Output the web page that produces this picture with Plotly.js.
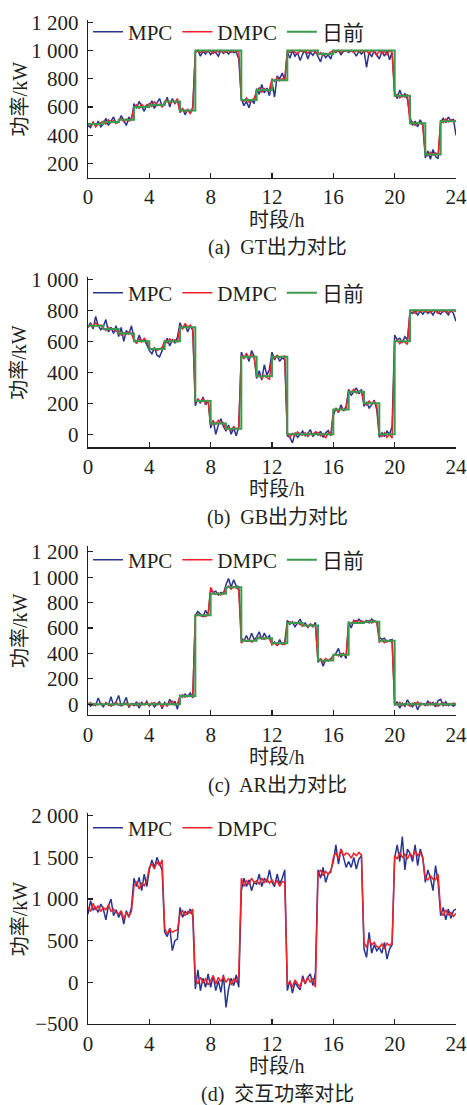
<!DOCTYPE html>
<html>
<head>
<meta charset="utf-8">
<script src="https://cdn.plot.ly/plotly-3.0.1.min.js"></script>
<style>html,body{margin:0;padding:0;background:#fff;}#chart{width:467px;height:1105px;}</style>
</head>
<body>
<div id="chart"></div>
<script>
// ---------- data (10-min resolution, hour 0 .. 24) ----------
const hourTicks = [0, 4, 8, 12, 16, 20, 24];

// (a) GT
const gtDayAhead = [480,495,510,600,615,640,575,1000,1000,1000,650,720,790,1000,1000,975,1000,1000,1000,1000,680,485,265,500,500];
const gtMPC = [
 470,455,490,465,500,460,
 480,520,470,505,530,485,
 495,540,500,470,530,505,
 625,590,640,600,570,615,
 600,645,590,630,660,605,
 620,670,600,660,625,650,
 560,590,545,585,555,600,
 985,1000,960,995,975,1000,
 970,995,985,960,1000,980,
 995,975,1000,985,990,940,
 660,610,640,595,655,625,
 730,690,760,700,735,680,
 780,670,820,800,840,790,
 990,945,1000,960,985,930,
 975,1000,940,990,965,995,
 960,920,985,950,970,940,
 1000,985,1000,970,995,1000,
 985,1000,990,960,995,975,
 1000,880,990,955,1000,970,
 940,995,960,1000,935,990,
 700,660,720,670,695,655,
 530,470,500,460,510,475,
 240,290,230,300,250,235,
 495,520,490,530,500,515,
 400];
const gtDMPC = [
 485,470,495,460,480,490,
 500,480,510,490,505,485,
 505,520,495,515,500,520,
 595,615,590,620,600,610,
 625,605,640,610,620,600,
 635,650,625,645,630,660,
 570,590,565,580,555,585,
 990,1000,985,1000,990,995,
 1000,980,995,990,1000,985,
 995,1000,985,1000,990,995,
 655,640,665,635,650,660,
 710,735,705,730,715,725,
 800,780,810,785,800,795,
 1000,985,1000,990,975,1000,
 990,1000,980,995,1000,985,
 970,985,965,980,975,990,
 1000,990,1000,985,1000,995,
 995,1000,985,1000,990,1000,
 985,1000,975,1000,990,965,
 1000,980,995,970,1000,985,
 675,690,665,685,670,690,
 480,495,470,490,485,475,
 270,255,280,260,275,265,
 505,490,515,495,510,500,
 505];

// (b) GB
const gbDayAhead = [700,680,650,600,550,600,690,215,70,35,500,375,500,0,0,0,160,275,200,0,600,800,800,800,800];
const gbMPC = [
 690,720,680,760,700,675,
 695,740,660,690,650,700,
 630,690,600,670,645,700,
 620,585,640,600,610,580,
 540,520,560,510,500,545,
 580,620,570,610,590,625,
 720,680,710,660,700,670,
 185,230,200,240,190,220,
 40,90,0,60,100,50,
 20,60,0,40,-10,50,
 530,490,520,470,540,505,
 360,410,350,450,380,420,
 530,480,510,470,495,480,
 -10,-20,-55,10,-20,0,
 20,-10,5,30,-15,10,
 -5,20,-20,10,25,-10,
 120,170,140,190,150,180,
 290,250,280,300,260,290,
 180,210,170,190,220,160,
 -20,10,-15,20,0,50,
 640,610,620,590,630,610,
 790,780,800,770,795,775,
 800,780,795,770,800,785,
 775,800,790,770,800,780,
 730];
const gbDMPC = [
 690,710,695,720,700,705,
 685,670,690,675,680,665,
 660,640,655,645,660,650,
 605,590,615,595,620,600,
 560,545,555,540,550,560,
 605,590,615,600,610,595,
 700,680,715,690,705,685,
 205,225,210,230,200,220,
 60,85,65,90,70,75,
 30,45,25,50,35,40,
 510,490,520,495,515,500,
 370,385,360,380,365,355,
 505,490,510,495,500,505,
 10,-20,5,-10,15,0,
 -5,10,-15,5,0,15,
 10,-10,5,-25,10,-5,
 150,165,145,170,155,160,
 285,270,290,265,280,275,
 205,190,215,195,210,185,
 5,-15,10,-20,0,-25,
 590,610,585,605,595,580,
 795,800,780,800,790,800,
 790,800,785,800,795,780,
 800,790,800,785,795,800,
 790];

// (c) AR
const arDayAhead = [0,0,0,0,0,0,65,700,870,920,500,520,480,640,620,345,390,640,650,500,0,0,0,0,0];
const arMPC = [
 10,-15,5,-10,50,0,
 -20,15,-5,60,-10,20,
 70,-15,10,55,-25,5,
 -10,20,-30,15,-5,25,
 -15,10,-20,5,20,-35,
 15,-10,40,-5,25,-40,
 70,55,80,60,90,50,
 700,730,710,690,740,700,
 900,880,890,860,880,870,
 940,990,920,980,930,925,
 520,500,540,495,560,510,
 530,570,510,560,520,540,
 470,490,460,510,470,490,
 660,630,650,610,640,670,
 620,640,605,630,610,645,
 330,360,300,350,340,360,
 380,400,440,370,400,360,
 650,600,660,640,670,650,
 645,660,640,670,655,650,
 530,510,520,490,505,510,
 -10,20,-30,10,-15,35,
 0,-20,15,-45,10,5,
 -10,25,-5,15,-20,30,
 40,-15,20,-10,5,-15,
 0];
const arDMPC = [
 0,15,-10,5,-5,10,
 -5,10,0,-15,5,15,
 -10,5,-5,10,-15,0,
 5,-10,10,-5,0,15,
 -10,5,15,-5,10,-20,
 5,-15,10,25,-5,5,
 60,75,55,70,65,60,
 690,710,695,700,690,705,
 920,880,865,875,860,880,
 910,930,905,925,915,900,
 480,510,495,505,490,500,
 515,530,520,510,525,515,
 470,485,465,480,475,470,
 630,650,635,645,640,630,
 615,625,610,630,620,615,
 340,355,330,360,345,350,
 385,395,380,400,390,385,
 645,635,650,660,640,655,
 650,645,660,640,655,645,
 490,505,485,500,495,490,
 10,-5,15,-10,5,0,
 -15,10,-5,20,-10,5,
 5,-10,15,-5,10,-15,
 0,15,-10,5,-5,10,
 5];

// (d) exchange power
const exMPC = [
 820,980,870,900,840,940,
 880,750,920,1000,800,870,
 780,850,700,860,780,900,
 1250,1150,1260,1100,1300,1150,
 1350,1470,1380,1500,1420,1350,
 600,550,650,380,500,520,
 900,780,850,820,880,800,
 -80,150,-100,50,-60,100,
 -60,80,-100,20,-120,90,
 -300,-80,50,-40,90,-60,
 1100,1250,1150,1230,1100,1200,
 1180,1300,1150,1250,1200,1350,
 1200,1150,1300,1180,1250,1350,
 -100,20,-130,0,-50,-90,
 80,-20,60,100,-40,120,
 1350,1250,1380,1200,1300,1340,
 1450,1650,1420,1600,1500,1380,
 1450,1380,1500,1360,1480,1520,
 400,300,600,350,450,380,
 420,350,480,280,400,450,
 1500,1650,1450,1750,1350,1600,
 1550,1450,1650,1400,1600,1500,
 1200,1350,1250,1100,1400,1200,
 800,900,750,880,770,860,
 880];
const exDMPC = [
 900,850,950,870,920,850,
 900,870,930,850,880,840,
 820,860,760,840,790,850,
 1150,1210,1120,1190,1160,1220,
 1380,1420,1360,1450,1400,1470,
 650,580,640,600,620,630,
 820,860,800,850,830,880,
 50,-20,60,0,40,-30,
 20,80,-20,60,10,70,
 0,50,-30,40,0,80,
 1250,1150,1220,1180,1250,1200,
 1220,1180,1250,1200,1240,1190,
 1230,1180,1220,1150,1210,1200,
 -30,10,-60,30,-20,-50,
 40,-10,60,0,50,-60,
 1300,1350,1280,1330,1300,1320,
 1500,1560,1480,1600,1520,1550,
 1540,1490,1550,1520,1560,1530,
 480,420,520,450,480,430,
 420,460,400,470,440,480,
 1520,1480,1560,1500,1540,1480,
 1550,1500,1580,1520,1560,1490,
 1250,1230,1280,1240,1230,1300,
 850,800,870,810,840,790,
 830];

// tick labels
const yTicksA = [200, 400, 600, 800, 1000, 1200];
const yTextA = ["200", "400", "600", "800", "1 000", "1 200"];
const yTicksB = [0, 200, 400, 600, 800, 1000];
const yTextB = ["0", "200", "400", "600", "800", "1 000"];
const yTicksC = [0, 200, 400, 600, 800, 1000, 1200];
const yTextC = ["0", "200", "400", "600", "800", "1 000", "1 200"];
const yTicksD = [-500, 0, 500, 1000, 1500, 2000];
const yTextD = ["\u2212500", "0", "500", "1 000", "1 500", "2 000"];
const captions = ["(a)  GT出力对比", "(b)  GB出力对比", "(c)  AR出力对比", "(d)  交互功率对比"];

// ---------- styling ----------
const H = 1105;
const FONT = "Liberation Serif, 'Times New Roman', 'Noto Sans CJK SC', serif";
const TXT = "#231f20";
const C_MPC = "#28358e", C_DMPC = "#ee2229", C_DA = "#3a9a4d";
const py = p => 1 - p / H;

const panels = [
  {mpc: gtMPC, dmpc: gtDMPC, da: gtDayAhead, range: [100, 1216], top: 20, bot: 177.7, tv: yTicksA, tt: yTextA, legY: 32},
  {mpc: gbMPC, dmpc: gbDMPC, da: gbDayAhead, range: [-84, 1015], top: 277, bot: 447.3, tv: yTicksB, tt: yTextB, legY: 293},
  {mpc: arMPC, dmpc: arDMPC, da: arDayAhead, range: [-84, 1245], top: 546, bot: 715, tv: yTicksC, tt: yTextC, legY: 560},
  {mpc: exMPC, dmpc: exDMPC, da: null, range: [-500, 2029], top: 813.3, bot: 1024, tv: yTicksD, tt: yTextD, legY: 828}
];

const traces = [];
const layout = {
  width: 467, height: H,
  margin: {l: 88, r: 11, t: 0, b: 0},
  paper_bgcolor: "#fff", plot_bgcolor: "#fff",
  font: {family: FONT, size: 21, color: TXT},
  annotations: []
};

panels.forEach((p, i) => {
  const k = i + 1;
  const xs = k === 1 ? "x" : "x" + k, ys = k === 1 ? "y" : "y" + k;
  const lg = k === 1 ? "legend" : "legend" + k;
  traces.push({type: "scatter", mode: "lines", name: "MPC", y: p.mpc, x0: 0, dx: 1/6,
    xaxis: xs, yaxis: ys, legend: lg, line: {color: C_MPC, width: 1.5}});
  traces.push({type: "scatter", mode: "lines", name: "DMPC", y: p.dmpc, x0: 0, dx: 1/6,
    xaxis: xs, yaxis: ys, legend: lg, line: {color: C_DMPC, width: 1.5}});
  if (p.da) traces.push({type: "scatter", mode: "lines", name: "日前", y: p.da, x0: 0, dx: 1,
    xaxis: xs, yaxis: ys, legend: lg, line: {color: C_DA, width: 2, shape: "hv"}});

  const axCommon = {showline: true, linecolor: "#231f20", linewidth: 1.3, ticks: "inside", ticklen: 5,
    tickwidth: 1.2, tickcolor: "#231f20", showgrid: false, zeroline: false, mirror: false,
    tickfont: {family: FONT, size: 21, color: TXT}};
  layout[k === 1 ? "xaxis" : "xaxis" + k] = Object.assign({}, axCommon, {
    domain: [0, 1], anchor: ys, range: [0, 24], tickmode: "array", tickvals: hourTicks,
    ticktext: hourTicks.map(String), fixedrange: true});
  layout[k === 1 ? "yaxis" : "yaxis" + k] = Object.assign({}, axCommon, {
    domain: [py(p.bot), py(p.top)], anchor: xs, range: p.range, tickmode: "array",
    tickvals: p.tv, ticktext: p.tt, ticklabelstandoff: 4});
  layout[lg] = {orientation: "h", x: 0.0, xanchor: "left", y: py(p.legY), yanchor: "middle",
    bgcolor: "rgba(0,0,0,0)", borderwidth: 0, font: {family: FONT, size: 21, color: TXT},
    itemwidth: 30, tracegroupgap: 0};

  layout.annotations.push({xref: "paper", yref: "paper", x: -0.186, y: py((p.top + p.bot) / 2),
    text: "功率/kW", textangle: -90, showarrow: false, xanchor: "center", yanchor: "middle",
    font: {family: FONT, size: 20, color: TXT}});
  layout.annotations.push({xref: "paper", yref: "paper", x: 0.514, y: py(p.bot + 42),
    text: "时段/h", showarrow: false, xanchor: "center", yanchor: "middle",
    font: {family: FONT, size: 20, color: TXT}});
  layout.annotations.push({xref: "paper", yref: "paper", x: 0.514, y: py(p.bot + 70),
    text: captions[i], showarrow: false, xanchor: "center", yanchor: "middle",
    font: {family: FONT, size: 20, color: TXT}});
});

Plotly.newPlot("chart", traces, layout, {staticPlot: true, displayModeBar: false});
</script>
</body>
</html>
